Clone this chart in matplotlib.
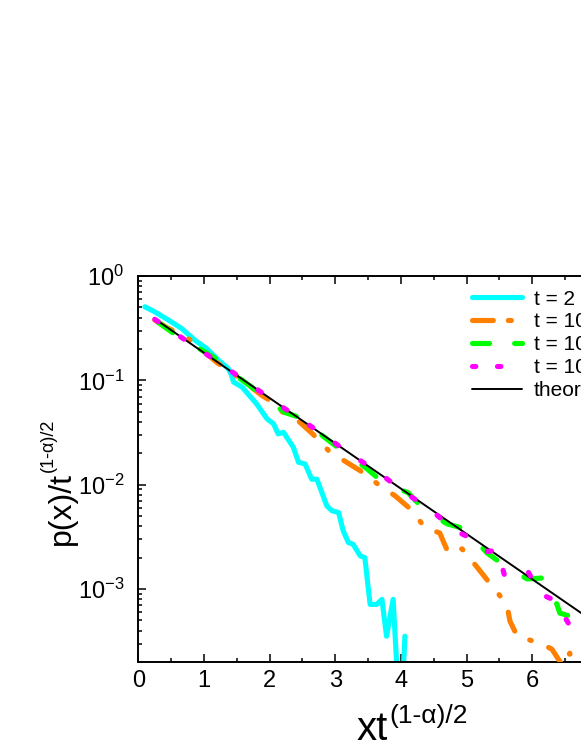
import matplotlib
matplotlib.use("Agg")
import matplotlib.pyplot as plt
from matplotlib.lines import Line2D
from matplotlib.ticker import LogLocator, NullFormatter, MultipleLocator

plt.rcParams['font.family'] = ['Liberation Sans', 'DejaVu Sans']
plt.rcParams['lines.scale_dashes'] = False

# ---- data ----
cyan_x = [0.10, 0.25, 0.46, 0.66, 0.86, 1.04, 1.22, 1.37, 1.42, 1.45, 1.58, 1.80, 1.96, 2.06,
          2.13, 2.21, 2.36, 2.44, 2.54, 2.64, 2.72, 2.87, 2.95, 3.05, 3.12, 3.20, 3.27, 3.38,
          3.45, 3.53, 3.63, 3.71, 3.78, 3.88, 3.96, 4.02, 4.06]
cyan_y = [0.507, 0.454, 0.378, 0.314, 0.243, 0.202, 0.156, 0.130, 0.112, 0.0964, 0.0862, 0.0597,
          0.0428, 0.0383, 0.0307, 0.0318, 0.0229, 0.0164, 0.0158, 0.0113, 0.0113, 0.00628,
          0.00562, 0.00542, 0.00361, 0.00279, 0.00269, 0.00208, 0.00200, 0.000713, 0.000713,
          0.000796, 0.000353, 0.000796, 0.0001, 0.0001, 0.000353]

orange_x = [0.25, 0.45, 0.59, 0.82, 1.21, 1.35, 1.88, 2.08, 2.16, 2.46, 2.65, 2.92, 3.16, 3.38,
            3.68, 3.91, 4.14, 4.37, 4.59, 4.72, 4.93, 5.17, 5.36, 5.61, 5.66, 5.77, 6.12, 6.30,
            6.47, 6.57, 6.67, 7.00]
orange_y = [0.378, 0.316, 0.290, 0.237, 0.146, 0.130, 0.0718, 0.0601, 0.0515, 0.0397, 0.0309,
            0.0205, 0.0166, 0.0136, 0.00978, 0.00783, 0.00588, 0.00386, 0.00345, 0.00222,
            0.00243, 0.00159, 0.00112, 0.000718, 0.000492, 0.000353, 0.000303, 0.000265,
            0.00018, 0.000243, 0.00017, 0.00012]

green_x = [0.30, 0.51, 0.89, 1.17, 1.52, 1.73, 2.23, 2.46, 2.80, 3.10, 3.48, 3.73, 4.11, 4.34,
           4.70, 4.97, 5.31, 5.52, 5.92, 6.19, 6.32, 6.42, 6.73, 7.20]
green_y = [0.361, 0.290, 0.208, 0.163, 0.107, 0.0857, 0.0492, 0.0441, 0.0296, 0.0212, 0.01425,
           0.01045, 0.00837, 0.00588, 0.00422, 0.00378, 0.00222, 0.00178, 0.00125, 0.00128,
           0.000895, 0.000588, 0.000515, 0.00030]

magenta_x = [0.25, 0.70, 1.20, 1.70, 2.20, 2.70, 3.20, 3.70, 4.06, 4.47, 4.83, 5.15, 5.32, 5.47,
             5.58, 5.93, 6.12, 6.34, 6.55, 6.80, 7.10]
magenta_y = [0.385, 0.247, 0.152, 0.0915, 0.0552, 0.0338, 0.0203, 0.0125, 0.00843, 0.00562,
             0.00361, 0.00290, 0.00229, 0.00236, 0.00133, 0.00149, 0.00090, 0.00078, 0.00047,
             0.00040, 0.00025]

theory_x = [0.30, 8.0]
theory_y = [0.370, 0.000168]

labels = ["t = 2", "t = 10", "t = 100", "t = 1000", "theory"]
x_ticks = [0, 1, 2, 3, 4, 5, 6, 7, 8]

# ---- styles ----
W, H = 581, 752
fig = plt.figure(figsize=(W / 100, H / 100), dpi=100)
ax_left, ax_right_px = 138.3, 138.3 + 8 * 65.67
ax_top, ax_bot = 276.0, 662.0
ax = fig.add_axes([ax_left / W, 1 - ax_bot / H, (ax_right_px - ax_left) / W, (ax_bot - ax_top) / H])

lw = 3.7
C_CYAN, C_ORANGE, C_GREEN, C_MAG = '#00FFFF', '#FF8000', '#00FF00', '#FF00FF'

ax.plot(cyan_x, cyan_y, color=C_CYAN, lw=lw, solid_capstyle='round', solid_joinstyle='round', zorder=2)
ax.plot(orange_x, orange_y, color=C_ORANGE, lw=lw, dashes=(14.5, 13.5, 1.2, 13.5),
        dash_capstyle='round', dash_joinstyle='round', zorder=3)
ax.plot(green_x, green_y, color=C_GREEN, lw=lw, dashes=(13, 23),
        dash_capstyle='round', dash_joinstyle='round', zorder=4)
ax.plot(theory_x, theory_y, color='black', lw=1.4, zorder=5)
ax.plot(magenta_x, magenta_y, color=C_MAG, lw=lw, dashes=(3.0, 19.5),
        dash_capstyle='round', dash_joinstyle='round', zorder=6)

ax.set_yscale('log')
ax.set_xlim(0, 8)
ax.set_ylim(2e-4, 1)
ax.set_xticks(x_ticks)
ax.xaxis.set_minor_locator(MultipleLocator(0.5))
ax.yaxis.set_major_locator(LogLocator(base=10, numticks=20))
ax.yaxis.set_minor_locator(LogLocator(base=10, subs=[2, 3, 4, 5, 6, 7, 8, 9], numticks=20))
ax.yaxis.set_minor_formatter(NullFormatter())

for s in ax.spines.values():
    s.set_linewidth(1.4)
ax.tick_params(which='both', direction='in', top=True, right=True, width=1.1, labelsize=17)
ax.tick_params(which='major', length=5.8)
ax.tick_params(which='minor', length=3.0)
ax.tick_params(axis='x', which='major', pad=6)
ax.tick_params(axis='y', which='major', pad=10)

# legend
def lh(color, lw_, dashes=None):
    kw = dict(color=color, lw=lw_, dash_capstyle='round', solid_capstyle='round')
    if dashes:
        kw['dashes'] = dashes
    return Line2D([], [], **kw)

handles = [lh(C_CYAN, lw), lh(C_ORANGE, lw, (15, 10.8, 2.2, 10.8)), lh(C_GREEN, lw, (12.3, 18)),
           lh(C_MAG, lw, (2.4, 15.6)), lh('black', 1.4)]
fs_leg = 15
ax.legend(handles, labels, loc='upper left', bbox_to_anchor=(471.5 / W, 1 - 289.5 / H),
          bbox_transform=fig.transFigure, frameon=False, fontsize=fs_leg, borderpad=0,
          borderaxespad=0, handlelength=2.4, handletextpad=0.6, labelspacing=0.19)

# axis labels composed manually (base + superscript)
fig.text(356.7 / W, 1 - 740 / H, 'xt', fontsize=29, ha='left', va='baseline')
fig.text(389.5 / W, 1 - 723 / H, '(1-α)/2', fontsize=19, ha='left', va='baseline')

fig.text(70 / W, 1 - 545 / H, 'p(x)/t', fontsize=23, rotation=90, rotation_mode='anchor',
         ha='left', va='baseline')
fig.text(53 / W, 1 - 472 / H, '(1-α)/2', fontsize=13, rotation=90, rotation_mode='anchor',
         ha='left', va='baseline')

fig.savefig('out.png', dpi=100)
